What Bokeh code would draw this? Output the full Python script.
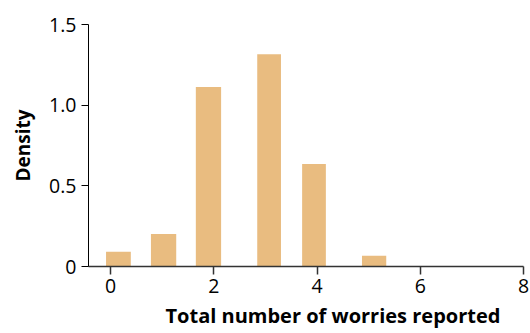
from bokeh.plotting import figure
from bokeh.models import Range1d, FixedTicker, Title
from bokeh.embed import file_html
from bokeh.resources import INLINE

# data
bin_left = [-0.09, 0.78, 1.65, 2.84, 3.71, 4.87]
bin_right = [0.39, 1.27, 2.14, 3.30, 4.17, 5.34]
density = [0.091, 0.202, 1.112, 1.316, 0.636, 0.066]
x_ticks = [0, 2, 4, 6, 8]
y_ticks = [0, 0.5, 1.0, 1.5]
y_tick_labels = ["0", "0.5", "1.0", "1.5"]

FONT = "Open Sans"

p = figure(width=530, height=333, output_backend="svg", toolbar_location=None,
           x_range=Range1d(-0.43, 8), y_range=Range1d(0, 1.5),
           min_border_left=88, min_border_right=7, min_border_top=24, min_border_bottom=66)
p.outline_line_color = None
p.grid.visible = False

p.quad(left=bin_left, right=bin_right, bottom=0, top=density,
       fill_color="#E9BC80", line_color=None)

xa = p.xaxis[0]
xa.ticker = FixedTicker(ticks=x_ticks)
xa.minor_tick_line_color = None
xa.major_tick_in = 0
xa.major_tick_out = 8
xa.axis_line_color = "#333333"
xa.axis_line_width = 1.5
xa.major_tick_line_color = "#333333"
xa.major_tick_line_width = 1.5
xa.major_label_text_font = FONT
xa.major_label_text_font_size = "19.5px"
xa.major_label_text_color = "black"
xa.major_label_standoff = 4

ya = p.yaxis[0]
ya.ticker = FixedTicker(ticks=y_ticks)
ya.major_label_overrides = {t: s for t, s in zip(y_ticks, y_tick_labels)}
ya.minor_tick_line_color = None
ya.major_tick_in = 0
ya.major_tick_out = 7
ya.axis_line_color = "black"
ya.major_tick_line_color = "black"
ya.major_label_text_font = FONT
ya.major_label_text_font_size = "19.5px"
ya.major_label_text_color = "black"
ya.major_label_standoff = 5
ya.axis_label = "Density"
ya.axis_label_text_font = FONT
ya.axis_label_text_font_style = "bold"
ya.axis_label_text_font_size = "19px"
ya.axis_label_text_color = "black"
ya.axis_label_standoff = 10

p.add_layout(Title(text="Total number of worries reported", align="left", offset=77,
                   text_font=FONT, text_font_style="bold", text_font_size="20px",
                   text_color="black", standoff=9), "below")

open("out.html", "w").write(file_html(p, INLINE))
